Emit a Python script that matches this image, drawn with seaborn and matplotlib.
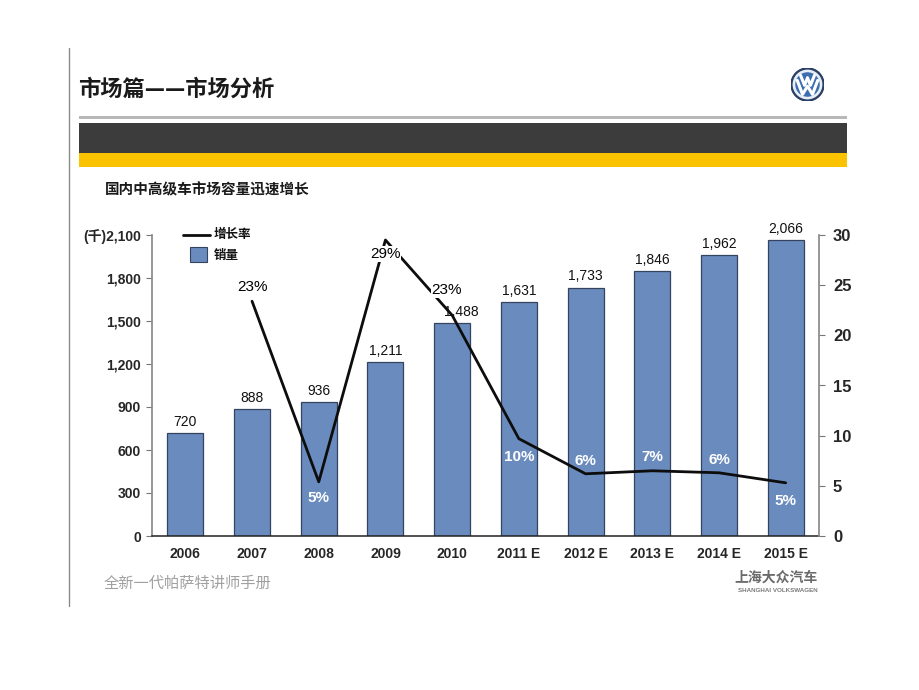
import numpy as np
import pandas as pd
import matplotlib
matplotlib.use("Agg")
import matplotlib.pyplot as plt
from matplotlib.patches import Rectangle, Circle
from matplotlib.lines import Line2D
import seaborn as sns

# ---------------- data ----------------
years = ["2006", "2007", "2008", "2009", "2010",
         "2011 E", "2012 E", "2013 E", "2014 E", "2015 E"]
sales = [720, 888, 936, 1211, 1488, 1631, 1733, 1846, 1962, 2066]
sales_labels = ["720", "888", "936", "1,211", "1,488", "1,631",
                "1,733", "1,846", "1,962", "2,066"]

growth_years = ["2007", "2008", "2009", "2010",
                "2011 E", "2012 E", "2013 E", "2014 E", "2015 E"]
growth_line = [23.4, 5.4, 29.5, 22.0, 9.7, 6.2, 6.5, 6.3, 5.3]
growth_labels = ["23%", "5%", "29%", "23%", "10%", "6%", "7%", "6%", "5%"]

left_ticks = [0, 300, 600, 900, 1200, 1500, 1800, 2100]
left_tick_labels = ["0", "300", "600", "900", "1,200", "1,500", "1,800", "(千)2,100"]
right_ticks = [0, 5, 10, 15, 20, 25, 30]

title = "市场篇——市场分析"
subtitle = "国内中高级车市场容量迅速增长"
footer_left = "全新一代帕萨特讲师手册"
legend_line = "增长率"
legend_bar = "销量"

# label styling (offsets in points, colour) – presentation only
label_style = [((0, 10), "black"), ((0, -12), "white"), ((0, -10), "black"),
               ((-4, 18), "black"), ((0, -13), "white"), ((0, 9), "white"),
               ((0, 10), "white"), ((0, 9), "white"), ((0, -13), "white")]

# ---------------- style ----------------
sns.set_theme(style="white")
plt.rcParams["font.family"] = ["Liberation Sans", "Noto Sans CJK SC", "DejaVu Sans"]
CJK = ["Noto Sans CJK SC", "DejaVu Sans"]

W, H = 920, 690
fig = plt.figure(figsize=(9.2, 6.9), dpi=100)
fig.patch.set_facecolor("white")

def fx(px):
    return px / W

def fy(py):
    return 1 - py / H

# left vertical rule
fig.add_artist(Line2D([fx(69), fx(69)], [fy(48), fy(606)], color="#8a8a8a", lw=1.0))

# title
fig.text(fx(78), fy(89), title, family=CJK, fontsize=16, fontweight="bold",
         color="#1a1a1a", va="center", ha="left")

# header bars
fig.add_artist(Rectangle((fx(79), fy(119)), fx(847 - 79), 3 / H, color="#b8b8b8", lw=0))
fig.add_artist(Rectangle((fx(79), fy(153)), fx(847 - 79), 30 / H, color="#3c3c3c", lw=0))
fig.add_artist(Rectangle((fx(79), fy(167)), fx(847 - 79), 14 / H, color="#fbc200", lw=0))

# VW logo (decorative)
lax = fig.add_axes([fx(791), fy(101), fx(33), 33 / H])
lax.set_xlim(-1, 1); lax.set_ylim(-1, 1); lax.set_aspect("equal"); lax.axis("off")
lax.add_patch(Circle((0, 0), 1.0, color="#2b3f66"))
lax.add_patch(Circle((0, 0), 0.86, color="#e8eef6"))
lax.add_patch(Circle((0, 0), 0.70, color="#3d6fb0"))
lax.plot([-0.42, -0.18, 0.0], [0.55, -0.05, 0.4], color="white", lw=2.2)
lax.plot([0.0, 0.18, 0.42], [0.4, -0.05, 0.55], color="white", lw=2.2)
lax.plot([-0.62, -0.3, 0.0, 0.3, 0.62], [0.25, -0.6, -0.1, -0.6, 0.25], color="white", lw=2.2)

# subtitle
fig.text(fx(105), fy(189), subtitle, family=CJK, fontsize=10.5, fontweight="bold",
         color="#1a1a1a", va="center", ha="left")

# ---------------- chart ----------------
ax = fig.add_axes([fx(152), fy(536), fx(819 - 152), (536 - 235) / H])
df = pd.DataFrame({"year": years, "sales": sales})
sns.barplot(data=df, x="year", y="sales", color="#6a8bbd", saturation=1,
            width=0.54, edgecolor="#34435f", linewidth=0.9, ax=ax)
ax.set_xlim(-0.5, len(years) - 0.5)
ax.set_ylim(0, 2100)
ax.set_yticks(left_ticks)
ax.set_yticklabels(left_tick_labels, family=["Liberation Sans", "Noto Sans CJK SC"],
                   fontsize=10, fontweight="bold")
ax.set_xlabel(""); ax.set_ylabel("")
ax.set_xticks(range(len(years)))
ax.set_xticklabels(years, fontsize=10, fontweight="bold")
ax.tick_params(axis="x", length=0, pad=8)
ax.tick_params(axis="y", direction="out", length=4, width=0.8, color="#777777", pad=4, left=True)
ax.spines["top"].set_visible(False)
ax.spines["left"].set_color("#8a8a8a")
ax.spines["right"].set_visible(False)
ax.spines["bottom"].set_color("#222222")
ax.spines["bottom"].set_linewidth(1.1)

for i, (v, lab) in enumerate(zip(sales, sales_labels)):
    dx = 0.13 if years[i] == "2010" else 0
    ax.annotate(lab, (i + dx, v), xytext=(0, 3), textcoords="offset points",
                ha="center", va="bottom", fontsize=10, color="#111111")

ax2 = ax.twinx()
gx = [years.index(y) for y in growth_years]
sns.lineplot(x=gx, y=growth_line, color="#0d0d0d", linewidth=2.0, ax=ax2)
ax2.set_ylim(0, 30)
ax2.set_yticks(right_ticks)
ax2.set_yticklabels([str(t) for t in right_ticks], fontsize=12, fontweight="bold")
ax2.tick_params(axis="y", direction="out", length=4, width=0.8, color="#777777", pad=6, right=True)
ax2.set_ylabel("")
for s in ["top", "left", "bottom"]:
    ax2.spines[s].set_visible(False)
ax2.spines["right"].set_color("#8a8a8a")
ax2.set_xlim(-0.5, len(years) - 0.5)

for x, v, lab, (off, col) in zip(gx, growth_line, growth_labels, label_style):
    kw = {}
    if col == "black":
        kw["bbox"] = dict(boxstyle="square,pad=0.05", fc="white", ec="none")
    ax2.annotate(lab, (x, v), xytext=off, textcoords="offset points",
                 ha="center", va="center", fontsize=11,
                 fontweight="bold" if col == "white" else "normal", color=col, **kw)

# legend (manual, positioned like reference)
fig.add_artist(Line2D([fx(183), fx(210)], [fy(235), fy(235)], color="#0d0d0d", lw=2))
fig.text(fx(214), fy(235), legend_line, family=CJK, fontsize=9, fontweight="bold",
         va="center", ha="left", color="#111111")
fig.add_artist(Rectangle((fx(190), fy(262)), fx(17), 15 / H, facecolor="#6a8bbd",
                         edgecolor="#34435f", lw=0.8))
fig.text(fx(214), fy(255), legend_bar, family=CJK, fontsize=9, fontweight="bold",
         va="center", ha="left", color="#111111")

# footer
fig.text(fx(104), fy(583), footer_left, family=CJK, fontsize=11, color="#a0a0a0",
         va="center", ha="left")
fig.text(fx(818), fy(578), "上海大众汽车", family=CJK, fontsize=10, fontweight="bold",
         color="#6a6a6a", va="center", ha="right")
fig.text(fx(818), fy(591), "SHANGHAI VOLKSWAGEN", fontsize=4.5, fontweight="bold",
         color="#7a7a7a", va="center", ha="right")

fig.savefig("out.png", dpi=100, facecolor="white")
